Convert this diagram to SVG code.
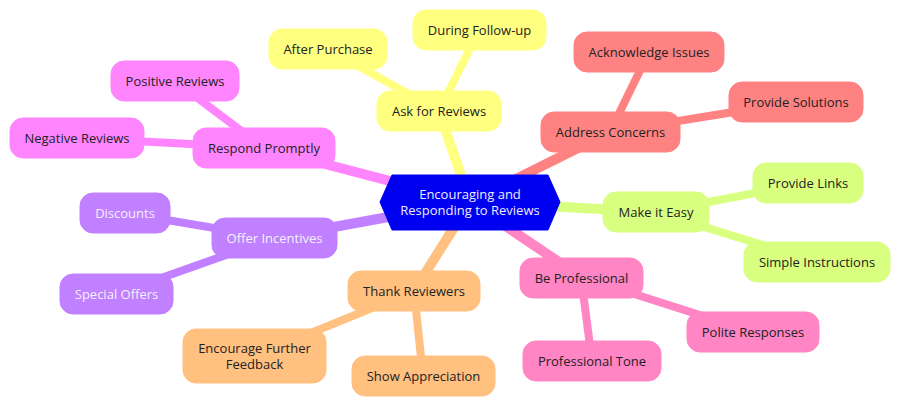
<svg xmlns="http://www.w3.org/2000/svg" width="900" height="406" viewBox="0 0 900 406">
<style>
text{font-family:"Open Sans","Noto Sans","Liberation Sans",sans-serif;font-size:13px;fill:#222;text-anchor:middle;dominant-baseline:central}
.e{fill:none;stroke-linecap:butt}
.r{stroke-width:10}
.l{stroke-width:8}
.pk{fill:#ff85ff;stroke:#ff85ff}
.ye{fill:#ffff80;stroke:#ffff80}
.rd{fill:#ff8282;stroke:#ff8282}
.gr{fill:#d9ff80;stroke:#d9ff80}
.pu{fill:#c080ff;stroke:#c080ff}
.or{fill:#ffc080;stroke:#ffc080}
.pp{fill:#ff85c4;stroke:#ff85c4}
.e.pk,.e.ye,.e.rd,.e.gr,.e.pu,.e.or,.e.pp{fill:none}
rect{stroke-width:1}
.w{fill:#f4f0ff}
</style>
<g id="connectors">
<line class="e r pk" x1="470" y1="202" x2="264" y2="148"/>
<line class="e l pk" x1="264" y1="148" x2="175" y2="81"/>
<line class="e l pk" x1="264" y1="148" x2="77" y2="138"/>
<line class="e r ye" x1="470" y1="202" x2="439" y2="111"/>
<line class="e l ye" x1="439" y1="111" x2="328" y2="49"/>
<line class="e l ye" x1="439" y1="111" x2="479" y2="30"/>
<line class="e r rd" x1="470" y1="202" x2="610" y2="132"/>
<line class="e l rd" x1="610" y1="132" x2="649" y2="52"/>
<line class="e l rd" x1="610" y1="132" x2="796" y2="102"/>
<line class="e r gr" x1="470" y1="202" x2="656" y2="212"/>
<line class="e l gr" x1="656" y1="212" x2="808" y2="183"/>
<line class="e l gr" x1="656" y1="212" x2="817" y2="262"/>
<line class="e r pp" x1="470" y1="202" x2="581" y2="277"/>
<line class="e l pp" x1="581" y1="277" x2="753" y2="332"/>
<line class="e l pp" x1="581" y1="277" x2="592" y2="361"/>
<line class="e r or" x1="470" y1="202" x2="414" y2="291"/>
<line class="e l or" x1="414" y1="291" x2="254" y2="356"/>
<line class="e l or" x1="414" y1="291" x2="423" y2="376"/>
<line class="e r pu" x1="470" y1="202" x2="274" y2="238"/>
<line class="e l pu" x1="274" y1="238" x2="125" y2="213"/>
<line class="e l pu" x1="274" y1="238" x2="116" y2="294"/>
</g>
<g id="root">
<polygon points="380,202 392,175 548,175 560,202 548,230 392,230" fill="#0000f0" stroke="#0000f0"/>
<text style="fill:#eeeaff"><tspan x="470" y="194">Encouraging and</tspan><tspan x="470" y="210">Responding to Reviews</tspan></text>
</g>
<g id="respond-promptly"><rect class="pk" x="193" y="128" width="142" height="40" rx="13"/><text x="264" y="148">Respond Promptly</text></g>
<g id="positive-reviews"><rect class="pk" x="111" y="61" width="128" height="40" rx="13"/><text x="175" y="81">Positive Reviews</text></g>
<g id="negative-reviews"><rect class="pk" x="10" y="118" width="134" height="40" rx="13"/><text x="77" y="138">Negative Reviews</text></g>
<g id="ask-for-reviews"><rect class="ye" x="377" y="91" width="124" height="40" rx="13"/><text x="439" y="111">Ask for Reviews</text></g>
<g id="after-purchase"><rect class="ye" x="269" y="29" width="118" height="40" rx="13"/><text x="328" y="49">After Purchase</text></g>
<g id="during-follow-up"><rect class="ye" x="413" y="10" width="133" height="40" rx="13"/><text x="479.5" y="30">During Follow-up</text></g>
<g id="address-concerns"><rect class="rd" x="541" y="112" width="139" height="40" rx="13"/><text x="610.5" y="132">Address Concerns</text></g>
<g id="acknowledge-issues"><rect class="rd" x="574" y="32" width="150" height="40" rx="13"/><text x="649" y="52">Acknowledge Issues</text></g>
<g id="provide-solutions"><rect class="rd" x="729" y="82" width="134" height="40" rx="13"/><text x="796" y="102">Provide Solutions</text></g>
<g id="make-it-easy"><rect class="gr" x="603" y="192" width="106" height="40" rx="13"/><text x="656" y="212">Make it Easy</text></g>
<g id="provide-links"><rect class="gr" x="753" y="163" width="110" height="40" rx="13"/><text x="808" y="183">Provide Links</text></g>
<g id="simple-instructions"><rect class="gr" x="744" y="242" width="146" height="40" rx="13"/><text x="817" y="262">Simple Instructions</text></g>
<g id="be-professional"><rect class="pp" x="520" y="258" width="123" height="40" rx="13"/><text x="581.5" y="278">Be Professional</text></g>
<g id="polite-responses"><rect class="pp" x="687" y="312" width="132" height="40" rx="13"/><text x="753" y="332">Polite Responses</text></g>
<g id="professional-tone"><rect class="pp" x="523" y="341" width="138" height="40" rx="13"/><text x="592" y="361">Professional Tone</text></g>
<g id="thank-reviewers"><rect class="or" x="348" y="271" width="132" height="40" rx="13"/><text x="414" y="291">Thank Reviewers</text></g>
<g id="encourage-further-feedback"><rect class="or" x="183" y="329" width="143" height="54" rx="13"/><text><tspan x="254.5" y="348">Encourage Further</tspan><tspan x="254.5" y="364">Feedback</tspan></text></g>
<g id="show-appreciation"><rect class="or" x="352" y="356" width="143" height="40" rx="13"/><text x="423.5" y="376">Show Appreciation</text></g>
<g id="offer-incentives"><rect class="pu" x="212" y="218" width="125" height="40" rx="13"/><text x="274.5" y="238" style="fill:#f4f0ff">Offer Incentives</text></g>
<g id="discounts"><rect class="pu" x="80" y="193" width="90" height="40" rx="13"/><text x="125" y="213" style="fill:#f4f0ff">Discounts</text></g>
<g id="special-offers"><rect class="pu" x="60" y="274" width="113" height="40" rx="13"/><text x="116.5" y="294" style="fill:#f4f0ff">Special Offers</text></g>
</svg>
